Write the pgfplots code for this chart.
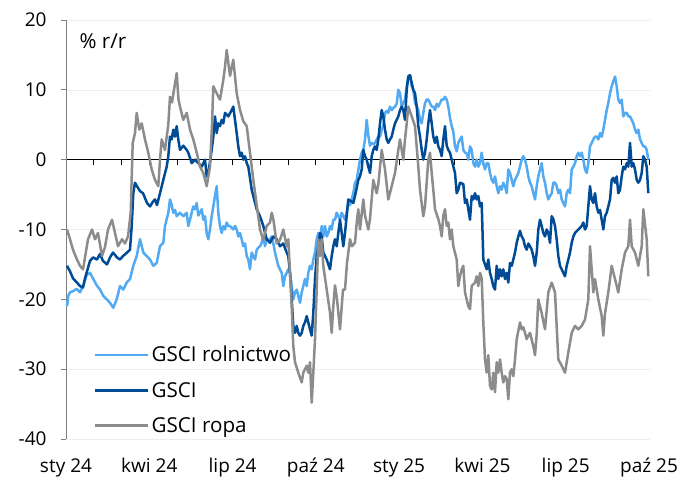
\documentclass[border=0pt]{standalone}
\usepackage{fontspec}
\setmainfont{Open Sans}
\usepackage{pgfplots}
\usepackage{pgfplotstable}
\pgfplotsset{compat=1.18}
\definecolor{rol}{RGB}{82,170,242}
\definecolor{gsci}{RGB}{0,75,150}
\definecolor{ropa}{RGB}{140,140,140}
\newcommand{\fs}{\fontsize{19bp}{22bp}\selectfont}
\newcommand{\fl}{\fontsize{20.6bp}{23bp}\selectfont}

\pgfplotstableread{
x y
67 -21
68.3 -19.5
70 -19
73.3 -18.8
76.7 -18.5
80 -19
83.3 -18
86.7 -16.5
90 -16.2
93.3 -17.1
96.7 -18
100 -18.6
103.3 -19.5
106.7 -20
110 -20.5
113.3 -21.2
116.7 -20
120 -18.1
123.3 -18.6
126.7 -17.6
130 -17.1
133.3 -15.2
136.7 -13.8
140 -11.4
143.3 -13.3
146.7 -13.8
150 -14.3
153.3 -15.2
156.7 -14.8
160 -12.4
163.3 -11.9
165 -9.5
168.3 -7.6
170 -5.7
171.7 -6.5
173.3 -7.6
175 -7.2
176.7 -8.1
180 -7.6
183.3 -8.1
186.7 -7.6
188.3 -9.5
190 -8.6
191.7 -7.6
193.3 -6.7
195 -7.1
196.7 -6.2
198.3 -8
200 -7.6
201.7 -7.1
203.3 -8.6
205 -8.1
206.7 -10.5
208.3 -11.4
210 -10
211.7 -8.1
213.3 -6.7
215 -5.2
216.7 -3.8
218.3 -7.6
220 -9.5
221.7 -10.5
223.3 -9.5
225 -10
226.7 -9
228.3 -9.5
230 -9.5
233.3 -10
235 -9.5
236.7 -10
238.3 -11
240 -10.5
241.7 -11.4
243.3 -12.4
245 -12
246.7 -13.8
248.3 -14.3
250 -15.7
251.7 -13.3
253.3 -13.8
255 -14.3
256.7 -12.9
258.3 -12.6
260 -12.4
261.7 -11.9
263.3 -11
265 -12.4
266.7 -11.4
270 -11.4
271.7 -11
273.3 -12
275 -13.3
276.7 -14.3
278.3 -15.2
280 -15.7
281.7 -16.2
283.3 -18.1
285 -16.7
286.7 -16.2
288.3 -15.7
290 -16.2
291.7 -18.1
293.3 -20
295 -19
296.7 -18.6
298.3 -19.5
300 -20.5
301.7 -19
303.3 -18.1
305 -17.1
306.7 -18.1
308.3 -16.2
310 -15.2
311.7 -15.7
313.3 -14.3
315 -13.3
316.7 -11.4
318.3 -10.5
320 -11.4
321.7 -9.5
323.3 -11
325 -9.5
326.7 -11
328.3 -10.5
330 -9.5
331.7 -10
333.3 -8.6
335 -8.6
336.7 -7.6
338.3 -8.1
340 -8.6
341.7 -7.6
343.3 -8.1
345 -8.6
346.7 -7.6
348.3 -6.2
350 -6.5
353.3 -4.8
355 -3.3
356.7 -2.9
358.3 -1.5
360 0
361.7 1
363.3 1.4
365 2.9
366.7 5.7
368.3 3.5
370 2
371.7 2.4
373.3 2.2
375 2.4
376.7 2.9
378.3 3.3
380 3.3
381.7 4.3
383.3 4.8
385 6.7
386.7 7
388.3 6.7
390 7.6
391.7 7.1
393.3 7.4
395 7.6
396.7 8
398.3 10
400 9.5
401.7 7.6
403.3 8.1
405 8.6
406.7 10.5
408.3 11.9
410 12.1
411.7 10.5
413.3 10
415 8.1
416.7 7.6
418.3 7.1
420 5.7
421.7 5.2
423.3 6.7
425 8.1
426.7 8.6
428.3 8.6
430 8.1
431.7 7.6
433.3 7.6
435 7.1
436.7 8
438.3 7.6
440 8.1
441.7 8.6
443.3 8.6
445 9
446.7 8.6
448.3 7.6
450 6
451.7 4.8
453.3 4
455 1.9
456.7 1.2
458.3 2.4
460 2.9
461.7 3.3
463.3 1.4
465 1
466.7 0.9
468.3 0
470 1.9
471.7 1.4
473.3 -0.5
475 -1
476.7 0
478.3 -1
480 -0.5
481.7 1
483.3 -0.5
485 -1.4
486.7 -0.5
488.3 -0.5
490 -1.9
491.7 -2.9
493.3 -3.3
495 -2.4
496.7 -3.8
498.3 -4.8
500 -3.8
501.7 -4.3
503.3 -3.3
505 -3.8
506.7 -4.8
508.3 -1.4
510 -1.9
511.7 -2.9
513.3 -3.8
515 -2.9
516.7 -2.4
518.3 -1.9
520 -1
521.7 0
523.3 0.5
525 0
526.7 -1
528.3 -2.4
530 -3.3
531.7 -3.8
533.3 -4.8
535 -5.7
536.7 -3.8
538.3 -2.4
540 -1.4
541.7 -0.5
543.3 -2.4
545 -3.3
546.7 -4.8
548.3 -5.7
550 -5.2
551.7 -4.8
553.3 -3.3
555 -3.3
556.7 -3.8
558.3 -4.8
560 -4.3
561.7 -5.7
563.3 -6.2
565 -6.7
566.7 -4.8
568.3 -4.3
570 -4.8
571.7 -1.4
573.3 -1
575 -0.5
576.7 0.5
578.3 1
580 0.5
581.7 1
583.3 0
585 -1.4
586.7 -1.9
588.3 -0.5
590 1.9
591.7 2.4
593.3 2.9
595 3.3
596.7 3.3
598.3 2.9
600 3.8
601.7 3.3
603.3 4.3
605 5.7
606.7 7.1
608.3 8.1
610 9.5
611.7 10.5
613.3 11.2
615 11.9
616.7 10.5
618.3 8.6
620 8.1
621.7 8.6
623.3 6.2
625 6.7
626.7 6.7
628.3 6.2
630 6.2
631.7 5.7
633.3 5.2
635 4.3
636.7 3.8
638.3 4.3
640 2.9
641.7 2.4
643.3 1.9
645 1.9
646.7 1.4
648.3 0
}\rolnictwo

\pgfplotstableread{
x y
67 -15.2
70 -16
73 -17
77 -17.6
80 -18.1
83 -18.3
85 -17
88 -15.5
90 -14.5
93 -14
97 -14.3
100 -13.5
103 -14.5
107 -15
110 -14
113 -13.3
117 -14
120 -14.3
123 -13.8
127 -13.3
130 -12.9
131.7 -9.5
133.3 -4.8
135 -3.3
137 -3.8
140 -4.5
143 -4.8
147 -6.2
150 -6.7
153 -6
155 -5.7
157 -6.5
160 -4.8
163.3 -2.9
166.7 -1
168.3 0.5
170 3.3
171.7 2.9
173.3 4.3
175 3.3
176.7 4.8
178.3 2.9
180 1.4
183.3 2
186.7 1.4
188.3 1
191.7 -0.5
195 0
198.3 -0.5
201.7 -1
205 0
206.7 -2.4
208.3 -2
211.7 1.4
213.3 3.3
215 6.2
216.7 3.8
218.3 5.2
220 4.8
221.7 5.7
223.3 5.2
225 6.7
228.3 6.2
231.7 7.1
233.3 7.6
235 5.7
236.7 3.8
238.3 1.9
240 0.5
241.7 1
243.3 0
245 0.5
246.7 -0.5
248.3 -1
251.7 -4.3
253.3 -5.2
256.7 -7.1
260 -8.1
263.3 -9.5
266.7 -11.4
270 -11.9
273.3 -11
276.7 -11.4
280 -12.4
283.3 -12
286.7 -13.3
288.3 -13.8
290 -16.2
291.7 -20
293.3 -23.8
295 -24.8
296.7 -23.8
298.3 -24.8
300 -25.2
301.7 -24.8
303.3 -23.8
305 -23.3
306.7 -22.4
308.3 -23.3
310 -24.3
311.7 -25.2
313.3 -21.9
315 -17.1
316.7 -13.8
318.3 -12.4
320 -10.5
321.7 -11
323.3 -13.3
326.7 -14.3
330 -15.7
331.7 -13.8
333.3 -12.4
335 -11.4
336.7 -12.4
338.3 -10.5
340 -8.6
341.7 -10.5
343.3 -12.4
345 -10.5
348.3 -5.7
351.7 -6
353.3 -6.2
355 -5.2
358.3 -2.9
360 -2.4
361.7 -1.4
363.3 1.4
365 0.5
366.7 0
368.3 -1
370 -1.9
371.7 0.5
373.3 1.4
375 1.9
376.7 1.4
378.3 2.9
380 5.2
381.7 7.1
383.3 6.2
385 4.3
386.7 2.9
388.3 2.4
390 2.9
391.7 3.3
393.3 4.3
395 5.2
398.3 6.2
400 7.1
401.7 7.6
403.3 7.1
405 5.7
406.7 10
408.3 11.9
410 12.1
411.7 11
413.3 10
415 9.5
416.7 7.6
418.3 4.8
420 3.3
421.7 1.4
423.3 0
425 1
426.7 2.9
428.3 5.2
430 7.1
431.7 5.2
433.3 3.3
435 2.4
436.7 3.3
438.3 1.9
440 1.4
441.7 0.5
443.3 2.9
445 4.8
446.7 2
448.3 1.4
450 1
451.7 0
453.3 -0.95
455 -1.9
456.7 -4.8
458.3 -4.3
460 -3.3
463.3 -3.5
465 -6.2
466.7 -5.7
468.3 -7.1
470 -8.6
471.7 -5.2
473.3 -5.7
475 -4.8
476.7 -5.7
478.3 -5.2
480 -6.7
481.7 -6.2
483.3 -14.3
485 -15
486.7 -15.7
488.3 -14.3
490 -16.2
491.7 -17.1
493.3 -18.1
495 -18.6
496.7 -15.2
498.3 -17.1
500 -15.7
501.7 -16.7
503.3 -15.7
505 -17.1
506.7 -16.2
508.3 -17.6
510 -14.8
511.7 -15.2
513.3 -14.3
515 -13.3
516.7 -11.9
518.3 -11
520 -10.2
521.7 -11
523.3 -11.4
525 -12.4
526.7 -12.9
528.3 -12
530 -12.4
531.7 -12.9
533.3 -13.8
535 -15.2
536.7 -13.3
538.3 -10
540 -8.6
541.7 -9.5
543.3 -10.5
545 -11
546.7 -10
548.3 -10.5
550 -11.9
551.7 -8.1
553.3 -8.5
555 -9.5
556.7 -11.4
558.3 -13.8
560 -15.2
561.7 -15.7
563.3 -16.2
565 -16.7
566.7 -15.2
568.3 -14.3
570 -13.3
571.7 -11.9
573.3 -11
575 -10.5
578.3 -10
581.7 -9.5
583.3 -9
585 -10
586.7 -9.5
588.3 -6.7
590 -3.8
591.7 -5.7
593.3 -6.2
595 -4.8
596.7 -6.7
598.3 -7.6
600 -7.2
601.7 -8.6
603.3 -10
605 -8.1
606.7 -7.6
608.3 -6.7
610 -5.7
611.7 -2.9
613.3 -2.6
615 -3.3
616.7 -2.4
618.3 -4.8
620 -4.3
621.7 -2.4
623.3 -1
625 -1.4
626.7 -0.5
628.3 -1
630 2.4
631.7 -1
633.3 -0.5
635 -1.4
636.7 -2.9
638.3 -3.3
640 -2.9
641.7 -1.9
643.3 0.5
645 0
646.7 -1
648.3 -4.8
}\gsci

\pgfplotstableread{
x y
67 -10
70 -11.4
73 -12.9
77 -14.3
80 -15.2
83 -15.7
85 -14
88 -11.4
92 -10
95 -11.4
98 -10.5
102 -13.8
105 -12.5
108 -10
112 -8.6
115 -10.5
118 -12.4
122 -11.4
125 -12
128 -11
130.7 -7.6
132.7 2.4
135 3.8
136.7 6.7
139.3 4.3
141.7 5.2
145 2.9
148.3 1
151.7 -1.4
155 -2.9
158.3 -3.8
160 0
161.7 2.9
165 1.4
168.3 5
170 9
172 8.2
174 10
176.7 12.4
178.5 8.6
180 7.6
183.3 5.7
186.7 6.7
190 4.3
193.3 2.9
196.7 1
200 -1
203.3 -1.9
206.7 -3.8
210 -1
212 5
213.3 10.5
216.7 9.5
220 8.6
223.3 11.4
225 13.3
226.7 15.7
230 12
233.3 14.3
236.7 9.5
240 7.1
243.3 5.5
246.7 4.8
250 1
253.3 -2.9
256.7 -6.5
260 -10
263.3 -11.5
266.7 -9.5
270 -9
271.7 -7.6
273.3 -8.5
276.7 -12
280 -11.5
283.3 -10
286.7 -12.4
288.3 -11.4
290 -16.2
291.7 -21
293.3 -26.7
295 -29
298.3 -30.5
301.7 -31.9
303.3 -30.5
306.7 -29.5
308.3 -30.5
310 -29
311.7 -34.8
313.3 -30.5
315 -25.7
316.7 -18.6
318.3 -11.4
320 -13.8
321.7 -11.4
323.3 -15.2
326.7 -18.6
330 -21.9
331.7 -24.8
333.3 -21
335 -18
337 -20
340 -24.3
343 -18.6
345 -18.6
347 -14.8
350 -11.4
352 -12.4
355 -11.9
357 -8.6
358.3 -7.1
360 -10
363.3 -5.7
365 -8
368.3 -10
370 -8.5
373.3 -2.9
376.7 -4.8
378.3 -3.5
381.7 1.4
385 -1.4
388.3 -5.7
391.7 -3.8
395 -1.9
398.3 1.4
400 2.9
403.3 0
405 2.9
406.7 5.2
408.3 7.6
411.7 6.2
415 4.8
418.3 -1
420 -4.3
423.3 -8.1
425 -6.7
428.3 0
430 1
431.7 -1.9
433.3 -4.3
435 -7.1
438.3 -8.5
440 -9.5
441.7 -11
443.3 -8
445 -7.1
446.7 -9.5
448.3 -9
450 -11.4
451.7 -10
453.3 -12.4
456.7 -14.3
458.3 -18.1
460 -16.7
461.7 -15.7
463.3 -15.2
465 -19
468.3 -21
470 -21.4
471.7 -18.1
475 -17.6
476.7 -16.7
478.3 -18.1
480 -16.2
481.7 -17
483.3 -23.3
485 -28.6
486.7 -30.5
488.3 -28
490 -32.4
491.7 -32.9
493.3 -30.5
495 -33.3
496.7 -29
498.3 -30.5
500 -28.6
501.7 -30.5
503.3 -31.9
505 -31
506.7 -31.4
508.3 -34.3
510 -30.5
511.7 -30
513.3 -31
515 -28.6
516.7 -25.7
520 -23.3
521.7 -24.3
523.3 -24
525 -24.8
526.7 -25.7
528.3 -25.2
530 -24.8
533.3 -26.7
535 -28
536.7 -25
538.3 -20
540 -21
541.7 -22
545 -24.3
548.3 -19
551.7 -17.6
555 -19
558.3 -28.6
561.7 -29.5
565 -30.5
568.3 -27.6
571.7 -24.8
575 -23.8
578.3 -24.3
581.7 -23.8
585 -22.9
588.3 -20
590 -12.4
591.7 -15.7
593.3 -19
595 -17.1
598.3 -20
601.7 -22.4
603.3 -25.2
605 -22
608.3 -19
611.7 -15.2
615 -17.1
618.3 -19
621.7 -15.7
625 -13.3
628.3 -12.4
630 -8.6
631.7 -12.4
635 -13.3
638.3 -15.2
641.7 -12.4
643.3 -7.1
646.7 -11.4
648.3 -16.7
}\ropa

\begin{document}
\begin{tikzpicture}
\useasboundingbox (0,0) rectangle (678bp,478bp);
\clip (0,0) rectangle (678bp,478bp);
\begin{axis}[
  at={(66bp,39bp)}, anchor=south west,
  scale only axis, width=584bp, height=419bp,
  xmin=66, xmax=650, ymin=-40, ymax=20,
  axis x line*=middle, axis y line*=left,
  hide obscured x ticks=false,
  x axis line style={black, line width=0.8bp},
  y axis line style={draw={rgb,255:red,128;green,128;blue,128}, line width=1bp},
  xtick={66,149.3,232.6,315.8,399.1,482.4,565.7,649},
  xticklabels={sty 24,kwi 24,lip 24,paź 24,sty 25,kwi 25,lip 25,paź 25},
  minor xtick={93.8,121.5,177.0,204.8,260.3,288.1,343.6,371.4,426.9,454.6,510.2,537.9,593.4,621.2},
  ytick={-40,-30,-20,-10,0,10,20},
  yticklabels={-40,-30,-20,-10,0,10,20},
  tick align=outside,
  major tick length=5bp, minor tick length=5bp,
  x tick style={black, line width=0.8bp},
  minor x tick style={black, line width=0.8bp},
  y tick style={draw={rgb,255:red,128;green,128;blue,128}, line width=1bp},
  ymajorgrids, grid style={draw={rgb,255:red,238;green,238;blue,238}, line width=0.6bp},
  ticklabel style={font=\fs, text=black},
  xticklabel style={anchor=base, yshift=-308bp},
  yticklabel style={anchor=east, xshift=-11bp},
  legend style={at={(axis cs:94,-26.4)}, anchor=north west, draw=none, fill=none,
    font=\fl, row sep=14.8bp, inner sep=0pt},
  legend cell align=left,
  legend image code/.code={\draw[#1] (0bp,0bp) -- (53bp,0bp);},
  every axis plot/.append style={line width=2.5bp, line join=round},
  clip=false,
]
\addplot[color=rol] table {\rolnictwo};
\addlegendentry{GSCI rolnictwo}
\addplot[color=gsci] table {\gsci};
\addlegendentry{GSCI}
\addplot[color=ropa] table {\ropa};
\addlegendentry{GSCI ropa}
\node[anchor=west, font=\fl, inner sep=0pt] at (axis cs:79.5,17.0) {\% r/r};
\end{axis}
\end{tikzpicture}
\end{document}
